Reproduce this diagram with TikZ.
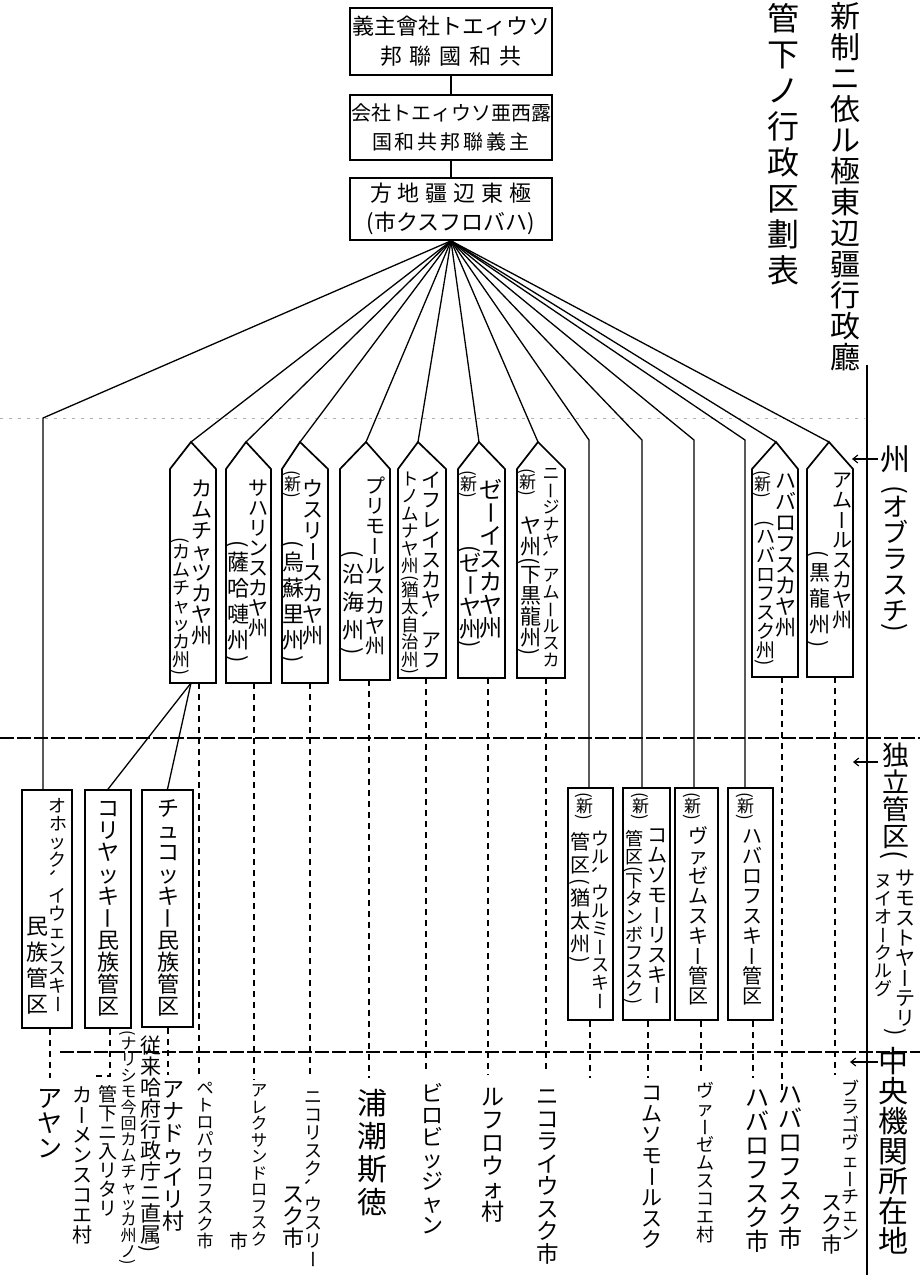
\documentclass[tikz,border=0pt]{standalone}
\usepackage{fontspec}
\usepackage{graphicx}
\usetikzlibrary{arrows.meta}
\newfontfamily\hjp{Noto Sans CJK JP}
\newcommand\vsz[1]{\hjp\fontsize{#1}{#1}\selectfont}
\newcommand\hsz[2]{\hjp\fontsize{#1}{#2}\selectfont}
% horizontal letter spacing
\def\spc#1#2{\def\spck{#1}\spcaux#2\relax}
\def\spcaux#1#2\relax{#1\ifx\relax#2\relax\else\kern\spck\spcaux#2\relax\fi}
% vertical text: every glyph turned upright inside a line that is rotated -90
\def\vsep{0pt}
\def\vcLong{ー}\def\vcOP{(}\def\vcCP{)}\def\vcCom{、}
\newif\ifvkeep
\def\vch#1{\def\vchtmp{#1}\vkeepfalse
  \ifx\vchtmp\vcLong\vkeeptrue\fi
  \ifx\vchtmp\vcOP\vkeeptrue\fi
  \ifx\vchtmp\vcCP\vkeeptrue\fi
  \ifx\vchtmp\vcCom\vkeeptrue\fi
  \ifvkeep#1\else\rotatebox[origin=c]{90}{\raisebox{0pt}[0.88em][0.12em]{#1}}\fi}
\def\vstr#1{\vstraux#1\relax}
\def\vstraux#1#2\relax{\vch{#1}\ifx\relax#2\relax\else\kern\vsep\expandafter\vstraux\fi#2\relax}
\newcommand\vtx[6][0pt]{\node[vt] (#2) at (#3,#4) {\vsz{#5}\def\vsep{#1}\vstr{#6}};}
\newcommand\penta[5]{\draw[bx] (#2,#5) -- (#2,469) -- (#4,442) -- (#3,469) -- (#3,#5) -- cycle;
  \coordinate (#1) at (#4,442); \coordinate (#1b) at (#4,#5);}
\tikzset{
 vt/.style={rotate=-90, anchor=west, inner sep=0pt, outer sep=0pt},
 bx/.style={draw, line width=1.7pt, inner sep=0pt, line join=miter},
 fan/.style={line width=1.3pt},
 dl/.style={line width=1.5pt, dash pattern=on 6pt off 5pt},
 hl/.style={line width=1.2pt, dash pattern=on 14pt off 3pt},
 fl/.style={line width=0.8pt, gray!60, dash pattern=on 3pt off 6pt},
 ar/.style={-{Straight Barb[length=5pt,width=8pt]}, line width=1.1pt}
}
\begin{document}
\begin{tikzpicture}[x=1pt,y=-1pt]
\useasboundingbox (0,0) rectangle (920,1280);
\fill[white] (0,0) rectangle (920,1280);

% guide lines
\draw[fl] (0,418) -- (865,418);
\draw[hl] (0,738) -- (920,738);
\draw[hl] (60,1052) -- (920,1052);
\draw[line width=1.6pt] (867,365) -- (867,1275);

% title
\vtx[1pt]{t1}{845}{1}{30}{新制ニ依ル極東辺疆行政廳}
\vtx[4pt]{t2}{783}{2}{32}{管下ノ行政区劃表}

% top boxes
\node[bx, minimum width=202pt, minimum height=67pt, align=center, font=\hsz{22}{30}] (b1) at (451,41.5)
  {義主會社トエィウソ\\\spc{8pt}{邦聯國和共}};
\node[bx, minimum width=202pt, minimum height=65pt, align=center, font=\hsz{20}{29}] (b2) at (451,127.5)
  {会社トエィウソ亜西露\\\spc{3pt}{国和共邦聯義主}};
\node[bx, minimum width=202pt, minimum height=62pt, align=center, font=\hsz{22}{29}] (b3) at (451,209)
  {\spc{6pt}{方地疆辺東極}\\(市クスフロバハ)};
\draw[fan] (b1.south) -- (b2.north);
\draw[fan] (b2.south) -- (b3.north);

% provinces (oblast)
\penta{kam}{170}{216}{191}{683}
\penta{sak}{226}{271}{246}{683}
\penta{uss}{282}{328}{300}{683}
\penta{pri}{340}{390}{366}{680}
\penta{jew}{398}{446}{418}{678}
\penta{zey}{458}{505}{479}{678}
\penta{niz}{517}{565}{538}{678}
\penta{hab}{752}{798}{776}{677}
\penta{amu}{807}{853}{829}{677}

\foreach \p in {kam,sak,uss,pri,jew,zey,niz,hab,amu}
  \draw[fan] (b3.south) -- (\p);

\vtx{kam1}{202}{478}{21}{カムチャツカヤ州}
\vtx{kam2}{181}{537}{18}{(カムチャッカ州)}
\vtx{sak1}{258}{478}{20}{サハリンスカヤ州}
\vtx[4pt]{sak2}{238}{540}{22}{(薩哈嗹州)}
\vtx{uss0}{292}{470}{17}{(新)}
\vtx{uss1}{313}{478}{21}{ウスリースカヤ州}
\vtx[4pt]{uss2}{293}{540}{22}{(烏蘇里州)}
\vtx{pri1}{375}{476}{20}{プリモールスカヤ州}
\vtx[6pt]{pri2}{353}{550}{22}{(沿海州)}
\vtx{jew1}{431}{470}{20}{イフレイスカヤ、アフ}
\vtx{jew2}{410}{470}{17.5}{トノムナヤ州(猶太自治州)}
\vtx{zey0}{468}{470}{17}{(新)}
\vtx{zey1}{491}{478}{23}{ゼーイスカヤ州}
\vtx{zey2}{470}{545}{22}{(ゼーヤ州)}
\vtx{niz0}{527}{468}{17}{(新)}
\vtx{niz1}{551}{465}{17}{ニージナヤ、アムールスカ}
\vtx{niz2}{530}{515}{21}{ヤ州(下黒龍州)}
\vtx{hab0}{762}{470}{17}{(新)}
\vtx{hab1}{786}{470}{21}{ハバロフスカヤ州}
\vtx{hab2}{765}{520}{19}{(ハバロフスク州)}
\vtx{amu1}{842}{470}{20}{アムールスカヤ州}
\vtx[5pt]{amu2}{819}{550}{21}{(黒龍州)}

% independent districts
\node[bx, minimum width=50pt, minimum height=238pt] (okh) at (47,909) {};
\node[bx, minimum width=46pt, minimum height=238pt] (kor) at (108,909) {};
\node[bx, minimum width=51pt, minimum height=237pt] (chu) at (167.5,908.5) {};
\node[bx, minimum width=45pt, minimum height=232pt] (ulu) at (590.5,904) {};
\node[bx, minimum width=47pt, minimum height=232pt] (kom) at (646.5,904) {};
\node[bx, minimum width=43pt, minimum height=232pt] (vaz) at (696.5,904) {};
\node[bx, minimum width=45pt, minimum height=232pt] (hbd) at (750.5,904) {};

\coordinate (okhB) at (43,418);
\coordinate (uluB) at (589,440);
\coordinate (komB) at (642,440);
\coordinate (vazB) at (694,440);
\coordinate (hbdB) at (745,440);
\draw[fan] (b3.south) -- (okhB) -- (okhB |- okh.north);
\draw[fan] (b3.south) -- (uluB) -- (uluB |- ulu.north);
\draw[fan] (b3.south) -- (komB) -- (komB |- kom.north);
\draw[fan] (b3.south) -- (vazB) -- (vazB |- vaz.north);
\draw[fan] (b3.south) -- (hbdB) -- (hbdB |- hbd.north);
\draw[fan] (kamb) -- (kor.north);
\draw[fan] (kamb) -- (chu.north);

\vtx{okh1}{58}{797}{18}{オホック、イウェンスキー}
\vtx[4pt]{okh2}{37}{915}{22}{民族管区}
\vtx{kor1}{108}{797}{22}{コリヤッキー民族管区}
\vtx{chu1}{168}{797}{22}{チュコッキー民族管区}
\vtx{ulu0}{584}{792}{17}{(新)}
\vtx{ulu1}{600}{830}{18}{ウル、ウルミースキー}
\vtx[3pt]{ulu2}{580}{832}{20}{管区(猶太州)}
\vtx{kom0}{640}{792}{17}{(新)}
\vtx{kom1}{657}{825}{20}{コムソモーリスキー}
\vtx{kom2}{634}{830}{18}{管区(下タンボフスク)}
\vtx{vaz0}{692}{792}{17}{(新)}
\vtx{vaz1}{698}{826}{20}{ヴァゼムスキー管区}
\vtx{hbd0}{745}{792}{17}{(新)}
\vtx{hbd1}{752}{826}{20}{ハバロフスキー管区}

% dashed links to centres
\coordinate (okhE) at (50,1078);
\coordinate (korE) at (110,1076);
\coordinate (korF) at (95,1076);
\coordinate (chuE) at (168,1075);
\coordinate (kamE) at (199,1075);
\coordinate (sakE) at (254,1080);
\coordinate (ussE) at (310,1075);
\coordinate (priE) at (369,1078);
\coordinate (jewE) at (426,1072);
\coordinate (zeyE) at (488,1075);
\coordinate (nizE) at (546,1072);
\coordinate (uluE) at (590,1078);
\coordinate (komE) at (648,1078);
\coordinate (vazE) at (701,1075);
\coordinate (hbdE) at (753,1078);
\coordinate (habE) at (782,1090);
\coordinate (amuE) at (835,1075);
\draw[dl] (okhE |- okh.south) -- (okhE);
\draw[dl] (korE |- kor.south) -- (korE) -- (korF);
\draw[dl] (chuE |- chu.south) -- (chuE);
\foreach \p in {kam,sak,uss,pri,jew,zey,niz,hab,amu}
  \draw[dl] (\p E |- \p b) -- (\p E);
\foreach \p in {ulu,kom,vaz,hbd}
  \draw[dl] (\p E |- \p.south) -- (\p E);

% centres
\vtx{c1}{50}{1085}{25}{アヤン}
\vtx{c2}{82}{1085}{20}{カーメンスコエ村}
\vtx{n1}{150}{1035}{21}{従来哈府行政庁ニ直属)}
\vtx{n2}{128}{1030}{16}{(ナリシモ今回カムチャッカ州ノ)}
\vtx{n3}{108}{1085}{19}{管下ニ入リタリ}
\vtx{c3}{173}{1078}{22}{アナドゥイリ村}
\vtx{c4}{205}{1080}{17}{ペトロパウロフスク市}
\vtx{c5}{259}{1082}{16.5}{アレクサンドロフスク}
\vtx{c5b}{239}{1232}{19}{市}
\vtx{c6}{313}{1088}{18}{ニコリスク、ウスリー}
\vtx{c6b}{293}{1183}{22}{スク市}
\vtx[3pt]{c7}{372}{1088}{30}{浦潮斯徳}
\vtx{c8}{432}{1082}{22}{ビロビッジャン}
\vtx{c9}{493}{1085}{23}{ルフロウォ村}
\vtx{c10}{548}{1085}{22.5}{ニコライウスク市}
\vtx{c11}{652}{1082}{21}{コムソモールスク}
\vtx{c12}{705}{1082}{18}{ヴァーゼムスコエ村}
\vtx{c13}{757}{1085}{24}{ハバロフスク市}
\vtx{c14}{790}{1082}{24}{ハバロフスク市}
\vtx{c15}{850}{1080}{18}{ブラゴヴェーチェン}
\vtx{c15b}{832}{1192}{21}{スク市}

% right-hand level labels
\vtx{r1}{895}{444}{30}{州}
\vtx{r1b}{895}{485}{26}{(オブラスチ)}
\vtx{r2}{895}{742}{27}{独立管区(}
\vtx{r2a}{905}{868}{20}{サモストヤーテリ}
\vtx{r2b}{883}{872}{18}{ヌイオークルグ}
\vtx{r2c}{895}{1028}{22}{)}
\vtx{r3}{893}{1046}{30}{中央機関所在地}
\coordinate (a1s) at (878,459); \coordinate (a1e) at (852,459);
\coordinate (a2s) at (878,762); \coordinate (a2e) at (853,762);
\coordinate (a3s) at (878,1062); \coordinate (a3e) at (850,1062);
\draw[ar] (a1s) -- (a1e);
\draw[ar] (a2s) -- (a2e);
\draw[ar] (a3s) -- (a3e);
\end{tikzpicture}
\end{document}
